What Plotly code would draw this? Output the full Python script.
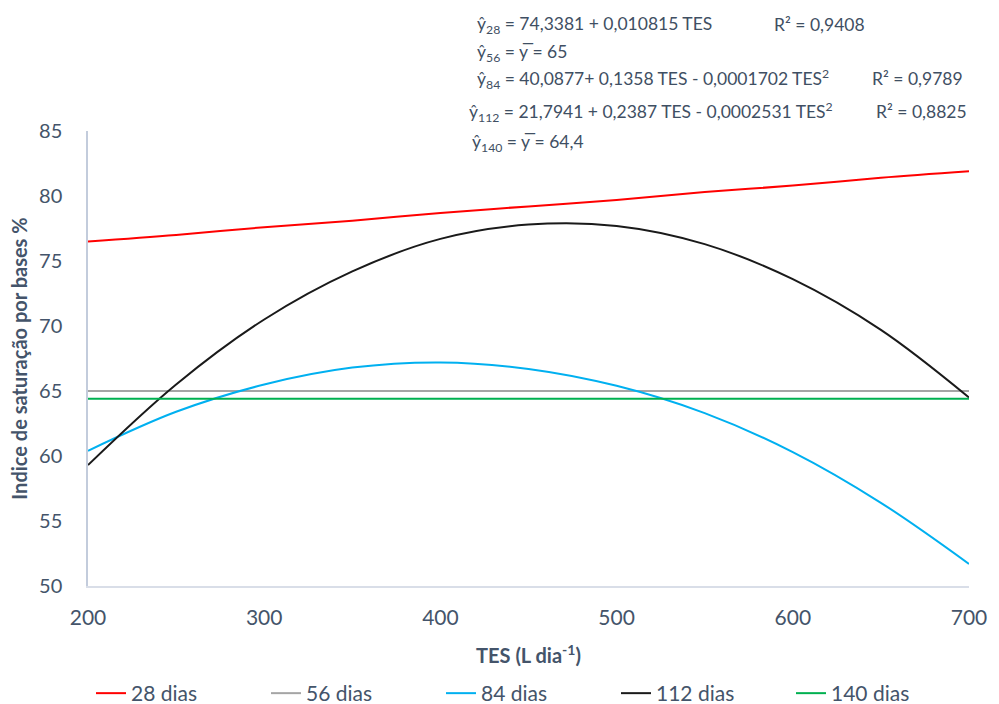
import plotly.graph_objects as go

# TES doses (L dia-1)
tes = [200, 250, 300, 350, 400, 450, 500, 550, 600, 650, 700]

# Base saturation index (%) per sampling date
dias_28 = [76.5, 77.0, 77.6, 78.1, 78.7, 79.2, 79.7, 80.3, 80.8, 81.4, 81.9]
dias_56 = [65.0, 65.0, 65.0, 65.0, 65.0, 65.0, 65.0, 65.0, 65.0, 65.0, 65.0]
dias_84 = [60.4, 63.4, 65.5, 66.8, 67.2, 66.7, 65.4, 63.3, 60.3, 56.4, 51.7]
dias_112 = [59.3, 65.5, 70.5, 74.2, 76.7, 77.8, 77.7, 76.3, 73.6, 69.7, 64.5]
dias_140 = [64.4, 64.4, 64.4, 64.4, 64.4, 64.4, 64.4, 64.4, 64.4, 64.4, 64.4]

series_names = ["28 dias", "56 dias", "84 dias", "112 dias", "140 dias"]
series_values = [dias_28, dias_56, dias_84, dias_112, dias_140]
series_colors = ["#FF0000", "#A5A5A5", "#00B0F0", "#1A1A1A", "#00B050"]

x_ticks = [200, 300, 400, 500, 600, 700]
y_ticks = [50, 55, 60, 65, 70, 75, 80, 85]

text_color = "#44546A"
font_family = "Lato, 'Open Sans', sans-serif"

W, H = 999, 704
L, R, T, B = 88, 30, 131, 118
plot_w = W - L - R
plot_h = H - T - B

fig = go.Figure()
for name, vals, color in zip(series_names, series_values, series_colors):
    fig.add_trace(go.Scatter(
        x=tes, y=vals, name=name, mode="lines",
        line=dict(color=color, width=2, shape="spline"),
    ))

# Regression equations, placed by pixel position above the plot
eq_font = dict(family=font_family, size=17.5, color="#3F4F63")
equations = [
    (475, 25, "ŷ<sub>28</sub> = 74,3381 + 0,010815 TES"),
    (772, 25, "R² = 0,9408"),
    (475, 53, "ŷ<sub>56</sub> = y̅ = 65"),
    (475, 79, "ŷ<sub>84</sub> = 40,0877+ 0,1358 TES - 0,0001702 TES<sup>2</sup>"),
    (870, 79, "R² = 0,9789"),
    (467, 112, "ŷ<sub>112</sub> = 21,7941 + 0,2387 TES - 0,0002531 TES<sup>2</sup>"),
    (874, 112, "R² = 0,8825"),
    (470, 143, "ŷ<sub>140</sub> = y̅ = 64,4"),
]
for px, py, txt in equations:
    fig.add_annotation(
        x=(px - L) / plot_w, y=(H - B - py) / plot_h, xref="paper", yref="paper",
        text=txt, showarrow=False, xanchor="left", yanchor="middle",
        font=eq_font,
    )

fig.update_layout(
    width=W, height=H,
    margin=dict(l=L, r=R, t=T, b=B, autoexpand=False),
    paper_bgcolor="white", plot_bgcolor="white",
    font=dict(family=font_family, color=text_color),
    showlegend=True,
    legend=dict(
        orientation="h", x=0.5, xanchor="center",
        y=-(673 - (H - B)) / plot_h, yanchor="top",
        font=dict(size=21, color="#44546A"),
        entrywidth=130, entrywidthmode="pixels",
    ),
)
fig.update_xaxes(
    range=[200, 700], tickvals=x_ticks, ticks="",
    showgrid=False, zeroline=False,
    showline=True, linecolor="#D9DEE8", linewidth=1.5,
    tickfont=dict(size=21, color=text_color),
    ticklabelstandoff=12, automargin=False,
    title=dict(text="<b>TES (L dia<sup>-1</sup>)</b>", font=dict(size=20, color=text_color), standoff=21),
)
fig.update_yaxes(
    range=[50, 85], tickvals=y_ticks, ticks="",
    showgrid=False, zeroline=False,
    showline=True, linecolor="#C3CCDC", linewidth=1.5,
    tickfont=dict(size=20, color=text_color),
    ticklabelstandoff=20, automargin=False,
    title=dict(text="<b>Indice de saturação por bases %</b>", font=dict(size=20, color=text_color), standoff=6),
)

fig.write_html("out.html")
